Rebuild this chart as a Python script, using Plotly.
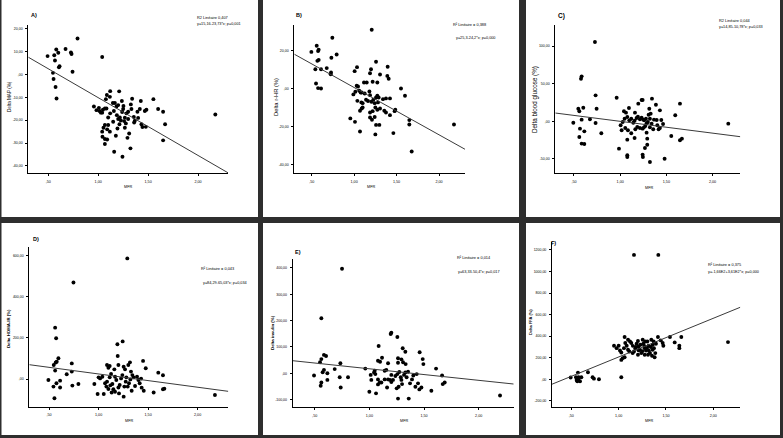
import plotly.graph_objects as go

W, H = 783, 438

# ---------------- data ----------------
a_x = [0.793,0.493,0.56,0.58,0.60,0.673,0.727,0.733,0.567,0.613,0.607,0.743,0.547,0.553,0.573,0.583,1.04,
       1.12,1.087,1.117,1.077,1.21,0.957,1.007,1.013,1.027,1.047,1.04,0.983,1.067,1.083,1.10,1.147,1.167,1.157,1.183,1.187,1.20,1.237,1.253,1.25,1.24,1.217,1.227,1.26,1.267,1.283,1.30,1.34,1.327,1.333,1.357,1.367,1.393,1.417,1.427,1.467,1.483,1.433,1.443,1.477,1.553,1.60,1.65,1.67,1.65,2.173,
       1.067,1.10,1.053,1.04,1.09,1.117,1.043,1.067,1.09,1.067,1.177,1.193,1.267,1.277,1.293,1.31,1.16,1.323,1.243,1.213,1.15,
       1.30,1.36,1.12,1.20,1.40]
a_y = [15.7,8.0,8.4,10.9,9.5,11.1,9.6,8.9,6.1,3.6,3.1,1.2,0.7,-2.0,-5.5,-10.5,7.6,
       -7.3,-9.0,-9.8,-10.8,-7.4,-14.0,-14.6,-16.0,-16.7,-15.4,-16.7,-15.6,-14.9,-14.9,-18.8,-12.5,-12.5,-16.0,-14.0,-17.8,-13.4,-11.6,-13.8,-15.1,-16.4,-18.8,-20.1,-20.4,-18.9,-17.0,-16.3,-10.6,-13.1,-15.1,-18.6,-20.2,-16.3,-15.1,-11.6,-16.0,-15.4,-21.8,-23.0,-22.9,-10.8,-15.1,-16.3,-21.8,-28.8,-17.5,
       -22.1,-22.1,-23.3,-25.0,-24.0,-25.0,-27.2,-28.2,-28.4,-30.4,-26.8,-23.6,-23.3,-21.4,-27.7,-25.8,-33.8,-32.3,-36.0,-21.8,-20.7,
       -19.5,-21.0,-17.0,-19.5,-19.0]

b_x = [1.207,0.743,0.559,0.582,0.575,0.496,0.794,0.732,0.567,0.582,0.543,0.61,0.677,0.728,0.724,0.551,0.575,0.61,
       1.258,1.034,1.006,1.199,1.187,1.305,1.395,1.391,1.407,1.116,1.148,1.218,1.273,1.03,1.046,1.014,0.991,1.06,1.077,1.089,1.124,1.18,1.187,1.273,1.258,1.289,1.34,1.375,1.422,1.552,1.599,
       1.038,1.085,1.10,1.14,1.163,1.203,1.226,1.242,1.281,1.10,1.089,1.069,1.187,1.218,1.25,1.273,1.305,1.355,1.375,1.422,1.477,1.485,1.187,1.21,1.242,0.955,1.01,1.069,1.258,1.297,1.25,1.462,1.65,1.65,1.678,2.176]
b_y = [30.8,26.6,22.4,20.3,19.6,19.2,17.8,16.1,14.5,15.0,10.1,10.1,10.7,8.4,7.5,2.6,0.2,0.0,
       14.0,11.2,9.1,10.1,8.0,7.3,11.4,6.6,5.1,3.1,3.1,3.5,3.1,1.4,1.0,-1.7,-3.1,-1.2,-2.1,-2.1,-2.6,-1.6,-3.5,-3.8,-4.7,-4.7,-5.6,-5.2,-5.2,0.0,-3.8,
       -6.5,-7.3,-7.7,-5.9,-6.6,-7.0,-5.9,-7.7,-7.3,-10.0,-10.5,-11.7,-12.6,-11.9,-10.0,-11.2,-10.5,-11.7,-12.6,-14.0,-11.9,-11.2,-15.2,-16.4,-15.0,-15.7,-17.5,-22.6,-19.1,-19.1,-24.1,-23.4,-16.6,-18.9,-33.1,-18.9]

c_x = [0.727,0.583,0.576,0.734,0.962,1.232,1.243,1.344,1.387,1.647,0.547,0.558,0.601,0.745,1.095,1.196,1.041,1.063,1.16,1.315,1.33,1.308,1.43,1.596,0.493,0.583,0.673,0.734,0.796,0.565,0.612,0.558,0.583,0.612,0.987,
       1.005,1.027,1.048,1.077,1.099,1.12,1.142,1.156,1.178,1.192,1.214,1.232,1.25,1.261,1.279,1.30,1.286,1.322,1.34,1.366,1.395,1.402,1.445,1.464,1.43,1.416,
       1.016,1.055,1.084,1.077,1.12,1.164,1.185,1.214,1.156,1.243,1.257,1.286,1.293,1.358,1.272,1.322,1.077,1.077,1.243,1.246,1.268,1.293,1.322,1.481,1.553,1.647,1.668,2.17]
c_y = [105.3,59.7,56.6,34.5,31.4,28.3,28.3,30.1,22.1,23.5,16.8,13.3,18.1,16.8,17.7,23.5,13.3,11.5,11.5,16.8,10.2,8.8,14.6,8.0,-1.8,2.2,2.7,-2.2,-15.9,-9.7,-13.3,-20.8,-29.6,-30.1,-36.3,
       -5.3,-0.9,3.5,5.8,1.3,3.5,-1.8,0.9,4.4,6.2,2.7,4.9,2.2,1.3,3.5,-0.9,-2.7,3.5,-3.1,2.2,1.8,-5.3,1.8,-3.5,-8.8,-10.6,
       -11.9,-8.8,-11.9,-24.3,-15.9,-10.6,-7.5,-8.8,-22.1,-9.7,-8.0,-15.0,-23.0,-10.6,-6.2,-8.0,-45.1,-47.3,-44.2,-47.3,-35.4,-31.0,-54.0,-49.6,-19.5,-25.2,-23.0,-3.1]

d_x = [1.29,0.746,0.561,0.571,1.243,1.19,1.193,0.594,0.577,0.567,0.547,0.729,1.317,1.30,1.449,1.476,1.085,1.099,1.112,1.159,1.20,1.253,1.267,0.561,0.729,0.678,0.493,0.544,0.574,0.611,0.554,0.611,0.735,0.796,1.603,1.65,1.556,1.664,1.65,2.175,
       0.957,1.0,1.015,1.038,0.99,1.052,1.065,1.079,1.085,1.099,1.119,1.139,1.112,1.126,1.149,1.166,1.179,1.20,1.213,1.227,1.24,1.253,1.26,1.274,1.28,1.294,1.307,1.321,1.327,1.334,1.341,1.354,1.368,1.388,1.402,1.415,1.435,1.456,1.429,1.166,1.132,1.206]
d_y = [587,470,250,198,183,169,112,101,84,80,68,76,81,68,88,52,68,55,63,47,68,60,47,41,36,23,-5,-37,-21,-8,-94,-41,-32,-24,31,18,-66,-47,-50,-78,
       -24,8,3,11,-73,-73,-21,-37,-13,-49,-31,-24,8,24,-50,11,-5,-41,-29,3,19,-86,-37,-13,8,-37,-21,-2,36,-57,19,8,-34,11,-5,-21,-42,-57,2,-62,-66,-70]

e_x = [0.75,0.561,1.201,1.195,1.256,1.085,1.305,1.46,1.329,0.585,0.604,0.561,0.549,0.735,1.488,1.494,1.116,1.079,1.098,1.171,1.262,1.262,1.293,1.308,1.332,
       0.494,0.585,0.573,0.616,0.683,0.616,0.561,0.555,0.729,0.805,0.738,0.963,1.049,1.012,1.018,1.043,1.055,1.0,1.061,1.079,1.095,1.11,1.14,1.155,1.171,1.162,1.201,1.216,1.256,1.238,1.274,1.268,1.25,1.287,1.293,1.299,1.317,1.329,1.341,1.354,1.372,1.39,1.402,1.421,1.433,1.445,1.457,1.262,1.36,1.476,1.567,1.665,1.671,1.689,1.61,2.195,1.201,1.189,1.079,1.14]
e_y = [397,209,154,149,138,104,95,80,82,70,66,54,42,38,54,35,59,48,44,38,57,40,53,42,35,
       -8,13,4,0,16,-25,-35,-47,-15,-15,-54,18,10,-6,-25,3,-3,-70,-76,-42,-35,-35,10,13,-23,-54,-33,-25,-3,-10,5,-51,-57,-15,-25,-41,-6,3,-15,6,-38,-23,-8,-51,-3,-38,-61,-96,-96,-54,-66,-8,-41,-35,18,-84,-6,-25,-23,-23]

f_x = [1.162,1.419,0.493,0.57,0.549,0.577,0.606,0.556,0.577,0.563,0.592,0.676,0.725,0.739,0.792,1.028,
       1.063,0.951,1.0,0.979,1.014,1.028,1.042,1.028,1.063,1.056,1.07,1.085,1.099,1.113,1.148,1.162,1.176,1.19,1.204,1.211,1.225,1.239,1.254,1.261,1.275,1.289,1.303,1.317,1.331,1.345,1.359,1.373,1.38,1.394,1.415,1.31,1.275,1.204,1.444,1.465,1.472,1.542,1.592,1.641,1.641,1.662,2.155,1.387,1.352,1.12,1.134,1.099,
       1.18,1.23,1.27,1.30,1.34,1.36,1.25,1.32,1.15,1.21,1.28,1.37]
f_y = [1154,1154,16,62,19,19,19,-6,-6,-19,-19,65,19,6,0,19,
       392,311,311,289,267,249,196,180,205,289,336,311,274,258,243,258,289,330,355,305,274,243,367,330,289,267,351,311,243,367,274,289,205,330,392,227,227,227,361,336,311,392,342,311,289,392,345,243,218,351,336,367,
       300,320,310,290,300,320,260,265,310,270,350,350]

# fit lines (intercept, slope) as drawn
fit_intercept = [15.1, 25.3, 15.7, 89.0, 61.0, -152.0]
fit_slope = [-25.25, -24.8, -15.7, -64.5, -43.8, 359.0]

y_titles = ["Delta MAP (%)", "Delta r-HR (%)", "Delta blood glucose (%)",
            "Delta HOMA-IR (%)", "Delta insulin (%)", "Delta FFA (%)"]
panel_tags = ["A)", "B)", "C)", "D)", "E)", "F)"]
r2_text = ["R2 Linéaire 0,407", "R² Linéaire = 0,388", "R2 Linéaire 0,044",
           "R² Linéaire = 0,043", "R² Linéaire = 0,014", "R² Linéaire = 0,375"]
eq_text = ["y=15,16-23,73*x; p=0,001", "y=25,3-24,2*x; p=0,000", "y=14,85-10,78*x; p=0,033",
           "y=84,29-65,03*x; p=0,034", "y=63,33-50,4*x; p=0,017", "y=-1,66E2+3,61E2*x; p=0,000"]

x_tickvals = [0.5, 1.0, 1.5, 2.0]
x_ticktext = [",50", "1,00", "1,50", "2,00"]
y_tickvals = [
    [20, 10, 0, -10, -20, -30, -40],
    [20, 0, -20, -40],
    [100, 50, 0, -50],
    [600, 400, 200, 0],
    [400, 300, 200, 100, 0, -100],
    [1200, 1000, 800, 600, 400, 200, 0, -200],
]
y_ticktext = [
    ["20,00", "10,00", ",00", "-10,00", "-20,00", "-30,00", "-40,00"],
    ["20,00", ",00", "-20,00", "-40,00"],
    ["100,00", "50,00", ",00", "-50,00"],
    ["600,00", "400,00", "200,00", ",00"],
    ["400,00", "300,00", "200,00", "100,00", ",00", "-100,00"],
    ["1200,00", "1000,00", "800,00", "600,00", "400,00", "200,00", ",00", "-200,00"],
]

# ---------------- layout geometry (pixels) ----------------
boxes = [(28.3, 228, 25, 173.3), (294.3, 465, 25, 173.3), (555.3, 740.3, 25, 173.3),
         (29.3, 228.3, 247.3, 406.7), (292.7, 513.7, 259, 407.3), (552, 740.3, 242.3, 407.3)]
x_ranges = [[0.30, 2.30], [0.295, 2.306], [0.298, 2.30], [0.30, 2.31], [0.299, 2.32], [0.296, 2.285]]
y_ranges = [[-43.2, 21.6], [-44.5, 33.3], [-69, 127.9], [-134.8, 641], [-129, 434], [-260, 1271]]

ytitle_pos = [(10, 97), (276, 97), (535, 100), (8, 329), (272, 333), (530, 322)]
ytitle_size = [4.6, 5.8, 6.3, 4.3, 4.4, 4.0]
ytitle_bold = [False, False, False, True, True, True]
xtitle_pos = [(128, 187), (371, 187), (649, 188), (129, 421), (404, 421), (649, 421)]
tag_pos = [(29, 15), (294, 15), (556, 16), (31, 239), (293, 252), (549, 243)]
r2_pos = [(195, 18), (451, 24), (717, 21), (199, 268), (455, 257), (706, 264)]
eq_pos = [(195, 24), (454, 38), (717, 27), (201, 283), (456, 272), (706, 272)]

FONT = "Liberation Sans, Arial, sans-serif"

def px(x):
    return x / W

def py(y):
    return 1 - y / H

xs = [a_x, b_x, c_x, d_x, e_x, f_x]
ys = [a_y, b_y, c_y, d_y, e_y, f_y]

fig = go.Figure()
layout = dict(width=W, height=H, margin=dict(l=0, r=0, t=0, b=0),
              paper_bgcolor="white", plot_bgcolor="white", showlegend=False,
              font=dict(family=FONT, color="black"))
annotations = []
for i in range(6):
    n = "" if i == 0 else str(i + 1)
    xl, xr, yt, yb = boxes[i]
    layout["xaxis" + n] = dict(domain=[px(xl), px(xr)], range=x_ranges[i], anchor="y" + n,
                               showline=True, linecolor="black", linewidth=1, ticks="outside",
                               ticklen=2, tickwidth=1, tickcolor="black", showgrid=False,
                               zeroline=False, tickvals=x_tickvals, ticktext=x_ticktext,
                               tickfont=dict(size=3.7, family=FONT), ticklabelstandoff=2,
                               fixedrange=True)
    layout["yaxis" + n] = dict(domain=[py(yb), py(yt)], range=y_ranges[i], anchor="x" + n,
                               showline=True, linecolor="black", linewidth=1, ticks="outside",
                               ticklen=2, tickwidth=1, tickcolor="black", showgrid=False,
                               zeroline=False, tickvals=y_tickvals[i], ticktext=y_ticktext[i],
                               tickfont=dict(size=3.5, family=FONT), ticklabelstandoff=2,
                               fixedrange=True)
    fig.add_trace(go.Scatter(x=xs[i], y=ys[i], mode="markers", xaxis="x" + n, yaxis="y" + n,
                             marker=dict(size=3.9, color="black"), cliponaxis=False))
    x0, x1 = x_ranges[i]
    fig.add_trace(go.Scatter(x=[x0, x1],
                             y=[fit_intercept[i] + fit_slope[i] * x0, fit_intercept[i] + fit_slope[i] * x1],
                             mode="lines", xaxis="x" + n, yaxis="y" + n,
                             line=dict(color="#3a3a3a", width=1)))
    ttl = "<b>" + y_titles[i] + "</b>" if ytitle_bold[i] else y_titles[i]
    annotations.append(dict(x=px(ytitle_pos[i][0]), y=py(ytitle_pos[i][1]), xref="paper", yref="paper",
                            text=ttl, textangle=-90, showarrow=False,
                            font=dict(size=ytitle_size[i], family=FONT), xanchor="center", yanchor="middle"))
    annotations.append(dict(x=px(xtitle_pos[i][0]), y=py(xtitle_pos[i][1]), xref="paper", yref="paper",
                            text="MFR", showarrow=False, font=dict(size=3.8, family=FONT),
                            xanchor="center", yanchor="middle"))
    annotations.append(dict(x=px(tag_pos[i][0]), y=py(tag_pos[i][1]), xref="paper", yref="paper",
                            text="<b>" + panel_tags[i] + "</b>", showarrow=False,
                            font=dict(size=5.5 if i != 2 else 6.5, family=FONT),
                            xanchor="left", yanchor="middle"))
    annotations.append(dict(x=px(r2_pos[i][0]), y=py(r2_pos[i][1]), xref="paper", yref="paper",
                            text=r2_text[i], showarrow=False, font=dict(size=3.9, family=FONT),
                            xanchor="left", yanchor="middle"))
    annotations.append(dict(x=px(eq_pos[i][0]), y=py(eq_pos[i][1]), xref="paper", yref="paper",
                            text=eq_text[i], showarrow=False, font=dict(size=3.8, family=FONT),
                            xanchor="left", yanchor="middle"))

layout["annotations"] = annotations

border = "#2e2e2e"
bands = [(258, 263, 0, H), (519, 526, 0, H), (0, W, 217, 223),
         (0, 1.5, 0, H), (780, W, 0, H), (0, W, 435, H)]
layout["shapes"] = [dict(type="rect", xref="paper", yref="paper", x0=px(a), x1=px(b),
                         y0=py(d), y1=py(c), fillcolor=border, line=dict(width=0), layer="above")
                    for (a, b, c, d) in bands]

fig.update_layout(**layout)
fig.write_html("out.html")
